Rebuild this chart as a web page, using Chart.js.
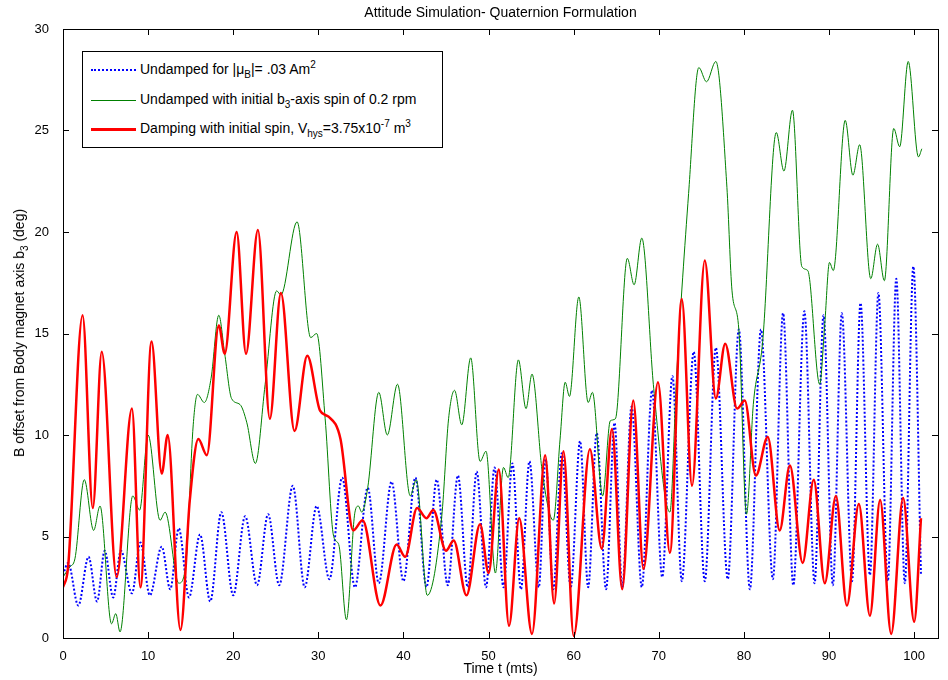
<!DOCTYPE html>
<html>
<head>
<meta charset="utf-8">
<title>Attitude Simulation</title>
<script src="https://cdn.jsdelivr.net/npm/chart.js@4.4.1/dist/chart.umd.min.js"></script>
<style>
  body { margin: 0; background: #fff; font-family: "Liberation Sans", Arial, sans-serif; color: #000; }
  .wrap { position: relative; width: 948px; height: 680px; }
  #chart { position: absolute; left: 0; top: 0; }
  .title { position: absolute; left: 63px; width: 875px; top: 4px; text-align: center; font-size: 14px; }
  .xlabel { position: absolute; left: 63px; width: 875px; top: 660px; text-align: center; font-size: 14px; }
  .ylabel { position: absolute; left: 19px; top: 333px; transform: translate(-50%, -50%) rotate(-90deg); white-space: nowrap; font-size: 14px; }
  .legend { position: absolute; left: 82px; top: 51px; width: 359px; height: 95px; border: 1px solid #000; background: #fff; font-size: 14px; }
  .legend .row { position: absolute; left: 0; width: 100%; height: 20px; }
  .legend .sample { position: absolute; left: 8px; width: 45px; }
  .legend .label { position: absolute; left: 57px; top: 1px; white-space: nowrap; }
  sub, sup { font-size: 10px; line-height: 0; }
</style>
</head>
<body>
<div class="wrap">
  <canvas id="chart" width="948" height="680"></canvas>
  <div class="title">Attitude Simulation- Quaternion Formulation</div>
  <div class="xlabel">Time t (mts)</div>
  <div class="ylabel">B offset from Body magnet axis b<sub>3</sub> (deg)</div>
  <div class="legend">
    <div class="row" style="top: 8px;">
      <div class="sample" style="top: 9px; border-top: 2px dotted #0000ff;"></div>
      <div class="label">Undamped for |&mu;<sub>B</sub>|= .03 Am<sup>2</sup></div>
    </div>
    <div class="row" style="top: 38px;">
      <div class="sample" style="top: 10px; border-top: 1px solid #008000;"></div>
      <div class="label">Undamped with initial b<sub>3</sub>-axis spin of 0.2 rpm</div>
    </div>
    <div class="row" style="top: 67px;">
      <div class="sample" style="top: 9px; border-top: 3px solid #ff0000;"></div>
      <div class="label">Damping with initial spin, V<sub>hys</sub>=3.75x10<sup>-7</sup> m<sup>3</sup></div>
    </div>
  </div>
</div>
<script>
// undamped, |mu_B| = .03 Am^2  (time in mts, angle in deg)
const tUndamped = [
  0, 0.6, 1.8, 3.0, 4.0, 4.9, 5.9, 6.8, 8.1, 9.1,
  10.2, 11.6, 12.6, 13.6, 14.8, 16.1, 17.3, 18.6, 20.0, 21.4,
  22.8, 24.1, 25.4, 27.0, 28.4, 29.8, 31.3, 32.8, 34.3, 35.8,
  37.1, 38.6, 40.0, 41.4, 42.7, 43.9, 45.2, 46.4, 47.55, 48.6,
  49.7, 50.7, 51.75, 52.8, 53.8, 54.8, 55.9, 56.7, 57.6, 58.6,
  59.65, 60.75, 61.7, 62.7, 63.8, 64.8, 65.7, 66.8, 68.0, 69.2,
  70.4, 71.6, 72.7, 74.1, 75.4, 76.7, 78.1, 79.4, 80.7, 82.0,
  83.4, 84.6, 85.8, 87.1, 88.3, 89.35, 90.45, 91.5, 92.7, 93.7,
  94.8, 95.8, 96.9, 97.9, 98.9, 99.9, 100.8
];
const angleUndamped = [
  3.1, 3.7, 1.6, 4.0, 1.8, 4.3, 2.0, 4.3, 2.2, 4.7,
  2.1, 4.5, 2.4, 5.4, 2.0, 5.1, 1.8, 6.2, 2.1, 6.0,
  2.6, 6.1, 2.6, 7.5, 2.5, 6.5, 2.9, 7.9, 2.5, 7.4,
  2.7, 7.7, 2.8, 7.9, 2.5, 7.8, 2.6, 8.0, 2.5, 8.2,
  2.5, 8.4, 2.5, 8.6, 2.4, 8.7, 2.5, 8.8, 2.4, 9.1,
  2.5, 9.7, 2.5, 10.1, 2.4, 10.6, 2.5, 11.4, 2.5, 12.2,
  3.0, 12.9, 2.8, 14.1, 2.8, 14.3, 2.9, 15.2, 2.4, 15.2,
  2.9, 16.0, 2.6, 16.1, 2.7, 15.9, 2.6, 16.0, 2.8, 16.5,
  3.1, 17.0, 2.8, 17.7, 2.7, 18.3, 3.1
];

// undamped with initial b3 spin
const tSpin = [
  0, 0.8, 1.4, 2.5, 3.6, 4.35, 5.7, 6.2, 6.7, 8.2,
  9.0, 10.0, 11.4, 12.0, 13.6, 14.4, 15.3, 15.8, 16.6, 17.4,
  18.3, 19.0, 19.8, 20.8, 21.6, 22.6, 23.75, 25.1, 25.6, 27.5,
  29.1, 29.8, 30.8, 31.8, 32.4, 33.3, 34.3, 34.7, 35.1, 35.8,
  37.1, 38.1, 39.3, 40.8, 41.5, 42.8, 44.5, 45.3, 46.0, 46.85,
  47.9, 49.0, 49.7, 50.8, 51.75, 52.3, 53.5, 54.4, 55.1, 56.3,
  57.6, 58.4, 59.0, 59.5, 60.6, 61.7, 62.2, 63.4, 64.3, 64.9,
  66.3, 67.1, 68.0, 69.4, 71.3, 72.1, 73.5, 74.7, 75.6, 76.7,
  78.0, 78.6, 79.4, 80.3, 81.1, 82.2, 83.8, 84.7, 85.7, 86.8,
  87.5, 88.9, 89.5, 90.05, 90.5, 91.9, 92.8, 93.6, 94.9, 95.7,
  96.5, 97.6, 98.3, 99.3, 100.5, 100.9
];
const angleSpin = [
  3.0, 3.5, 3.9, 7.8, 5.3, 6.5, 0.7, 1.2, 0.3, 7.0,
  6.3, 10.0, 5.8, 6.2, 2.7, 3.5, 10.5, 12.0, 11.6, 12.8,
  15.9, 14.0, 11.8, 11.5, 10.6, 8.6, 12.5, 17.1, 16.9, 20.5,
  14.8, 15.0, 10.8, 5.0, 4.6, 0.9, 6.2, 6.5, 6.2, 7.4,
  12.1, 10.0, 12.5, 7.0, 7.8, 2.1, 6.0, 10.8, 12.2, 10.5,
  13.8, 8.7, 9.2, 3.2, 8.4, 7.9, 13.7, 11.3, 13.0, 8.2,
  5.8, 9.8, 12.6, 11.9, 16.8, 11.6, 12.1, 7.0, 10.7, 10.8,
  18.7, 17.4, 19.7, 12.3, 6.2, 13.0, 21.9, 28.1, 27.4, 28.4,
  22.2, 17.1, 15.2, 6.1, 11.5, 14.6, 24.9, 23.0, 26.0, 18.3,
  18.1, 12.5, 15.5, 18.5, 18.1, 25.5, 22.8, 24.3, 17.7, 19.4,
  17.6, 25.1, 24.2, 28.4, 23.7, 24.1
];

// hysteresis damping, V_hys = 3.75e-7 m^3
const tDamped = [
  0, 0.6, 2.3, 3.5, 4.55, 6.3, 8.1, 9.1, 10.4, 11.6,
  12.3, 13.8, 14.9, 15.9, 16.9, 18.3, 19.0, 20.4, 21.5, 22.9,
  24.3, 25.6, 27.2, 28.7, 30.2, 31.2, 32.6, 34.1, 35.2, 37.3,
  39.2, 40.2, 41.6, 42.7, 43.5, 45.0, 45.9, 47.4, 49.0, 50.0,
  51.2, 52.4, 53.6, 55.1, 56.65, 57.7, 58.8, 60.0, 61.9, 63.3,
  64.5, 65.7, 67.0, 68.2, 69.9, 71.3, 72.7, 73.9, 75.4, 76.7,
  77.8, 79.2, 80.1, 81.4, 82.8, 84.2, 85.4, 86.9, 88.2, 89.5,
  90.8, 92.1, 93.5, 94.8, 96.0, 97.3, 98.7, 100.0, 100.8
];
const angleDamped = [
  2.5, 3.5, 15.9, 6.4, 14.1, 3.0, 11.3, 2.5, 14.6, 8.1,
  10.0, 0.4, 6.8, 9.8, 9.0, 15.4, 14.0, 20.0, 14.0, 20.1,
  10.8, 17.0, 10.2, 13.9, 11.2, 10.9, 9.8, 5.3, 5.8, 1.6,
  4.6, 4.0, 6.4, 5.9, 6.3, 4.3, 4.8, 2.1, 5.6, 3.2,
  8.3, 0.6, 5.9, 0.2, 9.0, 1.7, 9.2, 0.1, 9.3, 4.4,
  10.3, 2.4, 11.7, 3.4, 12.6, 4.2, 16.7, 7.5, 18.6, 11.8,
  14.5, 11.3, 11.7, 8.0, 9.9, 5.3, 8.5, 3.7, 7.8, 2.7,
  7.0, 1.6, 6.6, 1.1, 6.8, 0.2, 6.9, 0.8, 5.9
];

const xTicks = { min: 0, max: 102.8, step: 10 };
const yTicks = { min: 0, max: 30, step: 5 };

function toPoints(ts, vs) {
  return ts.map((t, i) => ({ x: t, y: vs[i] }));
}

// matlab style box with inward ticks on all four sides
const boxTicks = {
  id: 'boxTicks',
  afterDatasetsDraw(chart) {
    const { ctx, chartArea: a, scales } = chart;
    const len = 6;
    ctx.save();
    ctx.strokeStyle = '#000';
    ctx.lineWidth = 1;
    ctx.beginPath();
    scales.x.ticks.forEach((t) => {
      const px = Math.round(scales.x.getPixelForValue(t.value)) + 0.5;
      ctx.moveTo(px, a.bottom); ctx.lineTo(px, a.bottom - len);
      ctx.moveTo(px, a.top); ctx.lineTo(px, a.top + len);
    });
    scales.y.ticks.forEach((t) => {
      const py = Math.round(scales.y.getPixelForValue(t.value)) + 0.5;
      ctx.moveTo(a.left, py); ctx.lineTo(a.left + len, py);
      ctx.moveTo(a.right, py); ctx.lineTo(a.right - len, py);
    });
    ctx.stroke();
    ctx.strokeRect(Math.round(a.left) + 0.5, Math.round(a.top) + 0.5,
      Math.round(a.right - a.left), Math.round(a.bottom - a.top));
    ctx.restore();
  }
};

const tickFont = { family: '"Liberation Sans", Arial, sans-serif', size: 13 };

new Chart(document.getElementById('chart'), {
  type: 'line',
  data: {
    datasets: [
      {
        label: 'Undamped',
        data: toPoints(tUndamped, angleUndamped),
        borderColor: '#0000ff',
        borderWidth: 2,
        borderDash: [2, 2],
        order: 3
      },
      {
        label: 'Undamped with spin',
        data: toPoints(tSpin, angleSpin),
        borderColor: '#008000',
        borderWidth: 1,
        order: 2
      },
      {
        label: 'Damping with spin',
        data: toPoints(tDamped, angleDamped),
        borderColor: '#ff0000',
        borderWidth: 2.5,
        order: 1
      }
    ]
  },
  options: {
    responsive: false,
    animation: false,
    elements: {
      point: { radius: 0 },
      line: { cubicInterpolationMode: 'monotone', fill: false }
    },
    layout: { padding: { top: 29, right: 10, left: 0, bottom: 0 } },
    plugins: {
      legend: { display: false },
      tooltip: { enabled: false }
    },
    scales: {
      x: {
        type: 'linear',
        min: xTicks.min,
        max: xTicks.max,
        grid: { display: false },
        border: { display: false },
        ticks: { stepSize: xTicks.step, includeBounds: false, color: '#000', font: tickFont, padding: 3, maxRotation: 0 },
        afterFit(scale) { scale.height = 42; }
      },
      y: {
        min: yTicks.min,
        max: yTicks.max,
        grid: { display: false },
        border: { display: false },
        ticks: { stepSize: yTicks.step, color: '#000', font: tickFont, padding: 6 },
        afterFit(scale) { scale.width = 63; }
      }
    }
  },
  plugins: [boxTicks]
});
</script>
</body>
</html>
